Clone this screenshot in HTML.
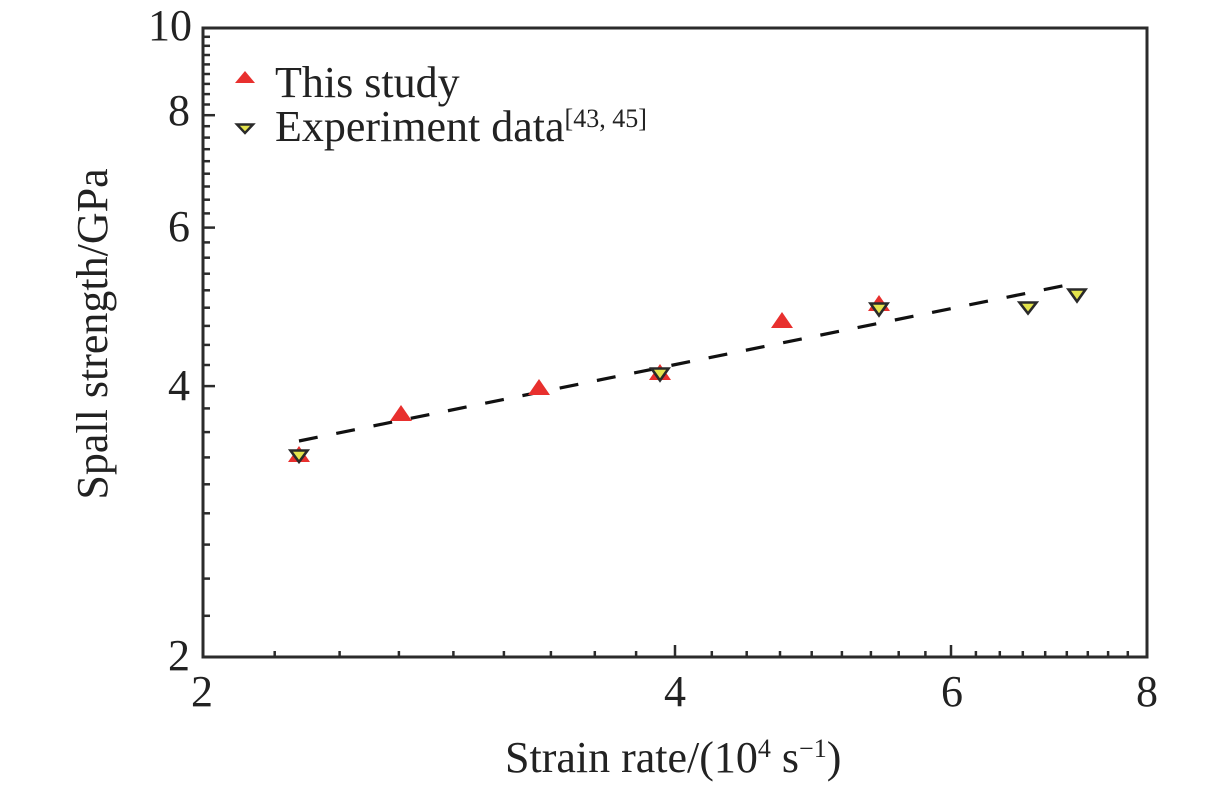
<!DOCTYPE html>
<html>
<head>
<meta charset="utf-8">
<style>
  html,body{margin:0;padding:0;background:#fff;}
  svg{display:block;}
  text{font-family:"Liberation Serif","Times New Roman",serif;fill:#222;}
</style>
</head>
<body>
<svg width="1228" height="787" viewBox="0 0 1228 787" xmlns="http://www.w3.org/2000/svg">
  <rect width="1228" height="787" fill="#fff"/>

  <!-- frame -->
  <rect x="203" y="28" width="944" height="629" fill="none" stroke="#2b2b2b" stroke-width="3"/>

  <!-- x ticks -->
  <g stroke="#2b2b2b" stroke-width="2.5">
    <!-- majors -->
    <line x1="675" y1="657" x2="675" y2="645"/>
    <line x1="951" y1="657" x2="951" y2="645"/>
    <!-- minors -->
    <line x1="274.7" y1="657" x2="274.7" y2="651"/>
    <line x1="339.6" y1="657" x2="339.6" y2="651"/>
    <line x1="398.9" y1="657" x2="398.9" y2="651"/>
    <line x1="453.4" y1="657" x2="453.4" y2="651"/>
    <line x1="503.9" y1="657" x2="503.9" y2="651"/>
    <line x1="550.9" y1="657" x2="550.9" y2="651"/>
    <line x1="594.8" y1="657" x2="594.8" y2="651"/>
    <line x1="636.1" y1="657" x2="636.1" y2="651"/>
    <line x1="711.8" y1="657" x2="711.8" y2="651"/>
    <line x1="746.7" y1="657" x2="746.7" y2="651"/>
    <line x1="780" y1="657" x2="780" y2="651"/>
    <line x1="811.7" y1="657" x2="811.7" y2="651"/>
    <line x1="841.9" y1="657" x2="841.9" y2="651"/>
    <line x1="870.9" y1="657" x2="870.9" y2="651"/>
    <line x1="898.7" y1="657" x2="898.7" y2="651"/>
    <line x1="925.4" y1="657" x2="925.4" y2="651"/>
    <line x1="975.9" y1="657" x2="975.9" y2="651"/>
    <line x1="999.8" y1="657" x2="999.8" y2="651"/>
    <line x1="1022.8" y1="657" x2="1022.8" y2="651"/>
    <line x1="1045.2" y1="657" x2="1045.2" y2="651"/>
    <line x1="1066.8" y1="657" x2="1066.8" y2="651"/>
    <line x1="1087.8" y1="657" x2="1087.8" y2="651"/>
    <line x1="1108.1" y1="657" x2="1108.1" y2="651"/>
    <line x1="1127.8" y1="657" x2="1127.8" y2="651"/>
  </g>

  <!-- y ticks -->
  <g stroke="#2b2b2b" stroke-width="2.5">
    <!-- majors -->
    <line x1="203" y1="386.1" x2="215" y2="386.1"/>
    <line x1="203" y1="227.6" x2="215" y2="227.6"/>
    <line x1="203" y1="115.2" x2="215" y2="115.2"/>
    <!-- minors 2-4 -->
    <line x1="203" y1="615.8" x2="210" y2="615.8"/>
    <line x1="203" y1="578.6" x2="210" y2="578.6"/>
    <line x1="203" y1="544.6" x2="210" y2="544.6"/>
    <line x1="203" y1="513.3" x2="210" y2="513.3"/>
    <line x1="203" y1="484.3" x2="210" y2="484.3"/>
    <line x1="203" y1="457.4" x2="210" y2="457.4"/>
    <line x1="203" y1="432.1" x2="210" y2="432.1"/>
    <line x1="203" y1="408.4" x2="210" y2="408.4"/>
    <!-- 4-6 -->
    <line x1="203" y1="365" x2="210" y2="365"/>
    <line x1="203" y1="344.9" x2="210" y2="344.9"/>
    <line x1="203" y1="325.9" x2="210" y2="325.9"/>
    <line x1="203" y1="307.7" x2="210" y2="307.7"/>
    <line x1="203" y1="290.3" x2="210" y2="290.3"/>
    <line x1="203" y1="273.7" x2="210" y2="273.7"/>
    <line x1="203" y1="257.7" x2="210" y2="257.7"/>
    <line x1="203" y1="242.4" x2="210" y2="242.4"/>
    <!-- 6-8 -->
    <line x1="203" y1="213.4" x2="210" y2="213.4"/>
    <line x1="203" y1="199.7" x2="210" y2="199.7"/>
    <line x1="203" y1="186.5" x2="210" y2="186.5"/>
    <line x1="203" y1="173.7" x2="210" y2="173.7"/>
    <line x1="203" y1="161.2" x2="210" y2="161.2"/>
    <line x1="203" y1="149.2" x2="210" y2="149.2"/>
    <line x1="203" y1="137.6" x2="210" y2="137.6"/>
    <line x1="203" y1="126.2" x2="210" y2="126.2"/>
    <!-- 8-10 -->
    <line x1="203" y1="104.5" x2="210" y2="104.5"/>
    <line x1="203" y1="94.1" x2="210" y2="94.1"/>
    <line x1="203" y1="83.9" x2="210" y2="83.9"/>
    <line x1="203" y1="74" x2="210" y2="74"/>
    <line x1="203" y1="64.4" x2="210" y2="64.4"/>
    <line x1="203" y1="55" x2="210" y2="55"/>
    <line x1="203" y1="45.8" x2="210" y2="45.8"/>
    <line x1="203" y1="36.8" x2="210" y2="36.8"/>
  </g>

  <!-- y tick labels -->
  <g font-size="44" text-anchor="end">
    <text x="190" y="670">2</text>
    <text x="190" y="400">4</text>
    <text x="190" y="241">6</text>
    <text x="190" y="125">8</text>
    <text x="192" y="40">10</text>
  </g>

  <!-- x tick labels -->
  <g font-size="44" text-anchor="middle">
    <text x="202" y="706">2</text>
    <text x="675" y="706">4</text>
    <text x="952" y="706">6</text>
    <text x="1147" y="706">8</text>
  </g>

  <!-- axis titles -->
  <text x="505" y="772" font-size="44">Strain rate/(10<tspan dy="-15" font-size="26">4</tspan><tspan dy="15"> s</tspan><tspan dy="-15" font-size="26">−1</tspan><tspan dy="15">)</tspan></text>
  <text transform="translate(107,334) rotate(-90)" font-size="44" text-anchor="middle">Spall strength/GPa</text>

  <!-- fit line -->
  <line x1="299" y1="441" x2="1077" y2="283" stroke="#111" stroke-width="3.2" stroke-dasharray="19 19"/>

  <!-- This study (red triangles) -->
  <g fill="#e8302e">
    <polygon points="288,462 310,462 299,446"/>
    <polygon points="390,421 412,421 401,405"/>
    <polygon points="528,395 550,395 539,379"/>
    <polygon points="649,380 671,380 660,364"/>
    <polygon points="771,328 793,328 782,312"/>
    <polygon points="868,311 890,311 879,295"/>
  </g>

  <!-- Experiment data (yellow inverted triangles) -->
  <g fill="#e4e44c" stroke="#2a2a2a" stroke-width="2.6" stroke-linejoin="miter">
    <polygon points="290.5,450.5 307.5,450.5 299,462"/>
    <polygon points="651.5,368.5 668.5,368.5 660,380.5"/>
    <polygon points="870.5,303.5 887.5,303.5 879,315.5"/>
    <polygon points="1019.5,302.5 1036.5,302.5 1028,313.5"/>
    <polygon points="1068.5,289.5 1085.5,289.5 1077,301.5"/>
  </g>

  <!-- legend -->
  <polygon points="235,83 255,83 245,71" fill="#e8302e"/>
  <polygon points="237,124.5 253,124.5 245,133" fill="#e4e44c" stroke="#2a2a2a" stroke-width="2.4"/>
  <text x="275" y="97" font-size="44">This study</text>
  <text x="275" y="141" font-size="44">Experiment data<tspan dy="-14" font-size="26">[43, 45]</tspan></text>
</svg>
</body>
</html>
